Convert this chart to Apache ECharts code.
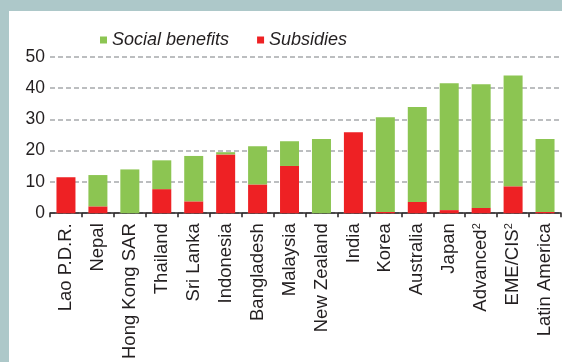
<!DOCTYPE html>
<html>
<head>
<meta charset="utf-8">
<script src="https://cdn.jsdelivr.net/npm/echarts@6/dist/echarts.min.js"></script>
<style>
html,body{margin:0;padding:0;background:#adc8c9;}
#wrap{position:absolute;left:9px;top:11px;width:553px;height:351px;background:#ffffff;}
#chart{position:absolute;left:0;top:0;width:562px;height:362px;}
</style>
</head>
<body>
<div id="wrap"></div>
<div id="chart"></div>
<script>
var categories = ['Lao P.D.R.','Nepal','Hong Kong SAR','Thailand','Sri Lanka','Indonesia','Bangladesh','Malaysia','New Zealand','India','Korea','Australia','Japan','Advanced{sup|2}','EME/CIS{sup|2}','Latin America'];
var subsidies = [11.5, 2.2, 0, 7.7, 3.8, 18.8, 9.2, 15.1, 0, 25.9, 0.4, 3.6, 1.0, 1.7, 8.6, 0.4];
var socialBenefits = [0, 10.0, 14.0, 9.2, 14.5, 0.7, 12.2, 7.9, 23.7, 0, 30.3, 30.3, 40.5, 39.5, 35.4, 23.3];
var yTicks = [0, 10, 20, 30, 40, 50];

var chart = echarts.init(document.getElementById('chart'), null, {renderer:'canvas'});
var textColor = '#231f20';
chart.setOption({
  backgroundColor: 'transparent',
  animation: false,
  legend: {
    data: ['Social benefits','Subsidies'],
    left: 95,
    top: 26,
    icon: 'rect',
    itemWidth: 7,
    itemHeight: 7,
    itemGap: 28,
    textStyle: {fontFamily:'Liberation Sans', fontSize:18, fontStyle:'italic', color:textColor, padding:[0,0,0,0]}
  },
  grid: {left: 50, right: 1, top: 56.7, bottom: 148.7, containLabel: false},
  xAxis: {
    type: 'category',
    data: categories,
    axisLine: {show:true, lineStyle:{color:textColor, width:1.5}},
    axisTick: {show:true, length:4, lineStyle:{color:textColor, width:1.5}},
    axisLabel: {
      rotate: 90, interval: 0, margin: 10,
      fontFamily:'Liberation Sans', fontSize:18.5, color:textColor,
      rich: {sup: {fontFamily:'Liberation Sans', fontSize:11, color:textColor, verticalAlign:'top', padding:[0,0,8,0]}}
    }
  },
  yAxis: {
    type: 'value',
    min: 0, max: 50, interval: 10,
    axisLine: {show:false},
    axisTick: {show:false},
    axisLabel: {
      margin: 5, fontFamily:'Liberation Sans', fontSize:17.5, color:textColor,
      formatter: function(v){ return yTicks.indexOf(v) >= 0 ? String(v) : ''; }
    },
    splitLine: {show:true, lineStyle:{color:'#a7a9ac', width:1.5, type:[5,3]}}
  },
  series: [
    {name:'Subsidies', type:'bar', stack:'total', data: subsidies, barWidth: 19, itemStyle:{color:'#ee2124'}},
    {name:'Social benefits', type:'bar', stack:'total', data: socialBenefits, barWidth: 19, itemStyle:{color:'#8cc552'}}
  ]
});
</script>
</body>
</html>
